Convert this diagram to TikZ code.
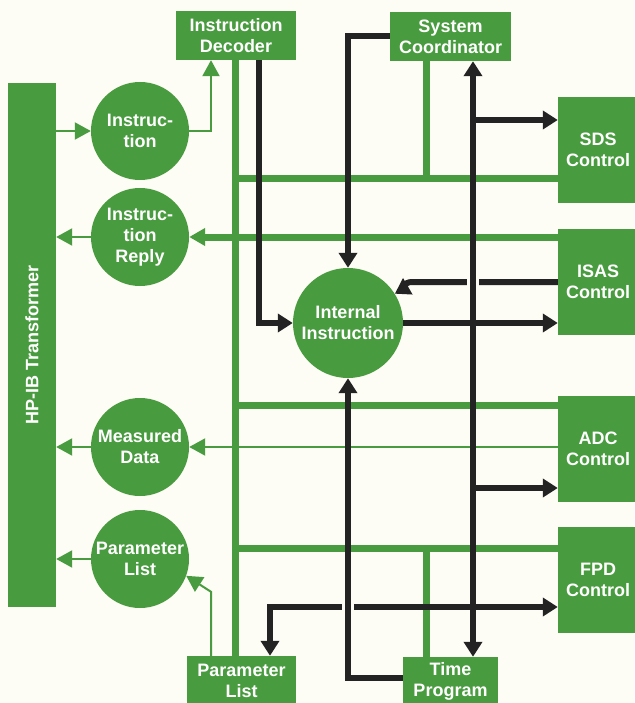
\documentclass[tikz,border=0pt]{standalone}
\usepackage{fontspec}
\setmainfont{Liberation Sans}
\usetikzlibrary{arrows.meta}
\definecolor{hpgreen}{RGB}{72,155,62}
\definecolor{ink}{RGB}{35,35,35}
\definecolor{paper}{RGB}{253,252,245}
\tikzset{
  fhead/.tip={Triangle[length=15pt,width=18pt]},
  ghead/.tip={Triangle[length=16pt,width=17pt]}
}

\begin{document}
\begin{tikzpicture}[x=1pt,y=-1pt,
    box/.style={fill=hpgreen, text=white, font=\bfseries\fontsize{18}{21}\selectfont, align=center, inner sep=0pt},
    circ/.style={box, circle, minimum size=98pt},
    bus/.style={draw=hpgreen, line width=7pt},
    wire/.style={draw=hpgreen, line width=2pt, -ghead},
    flow/.style={draw=ink, line width=6pt, -fhead}]
    \fill[paper] (0,0) rectangle (634,703);
    \useasboundingbox (0,0) rectangle (634,703);

    % blocks
    \node[box, minimum width=48pt, minimum height=524pt] (hpib) at (32,345) {\rotatebox{90}{HP-IB Transformer}};
    \node[box, minimum width=120pt, minimum height=49pt] (dec) at (236,35.5) {Instruction\\Decoder};
    \node[box, minimum width=121pt, minimum height=49pt] (sys) at (450.5,36.5) {System\\Coordinator};
    \node[box, minimum width=80pt, minimum height=106pt] (sds) at (598,150) {SDS\\Control};
    \node[box, minimum width=80pt, minimum height=106pt] (isas) at (598,282) {ISAS\\Control};
    \node[box, minimum width=80pt, minimum height=106pt] (adc) at (598,449) {ADC\\Control};
    \node[box, minimum width=80pt, minimum height=106pt] (fpd) at (598,580) {FPD\\Control};
    \node[box, minimum width=109pt, minimum height=49pt] (plist) at (241.5,680.5) {Parameter\\List};
    \node[box, minimum width=95pt, minimum height=49pt] (tprog) at (450.5,681.5) {Time\\Program};

    \node[circ] (instr) at (140,131) {Instruc-\\tion};
    \node[circ] (reply) at (140,237) {Instruc-\\tion\\Reply};
    \node[circ] (meas) at (140,447) {Measured\\Data};
    \node[circ] (param) at (140,559) {Parameter\\List};
    \node[circ, minimum size=110pt] (intl) at (348,323) {Internal\\Instruction};

    \coordinate (bx) at (235,0);
    \coordinate (sx) at (426,0);
    \coordinate (cx) at (473,0);
    \coordinate (r1) at (0,179);
    \coordinate (r2) at (0,405);
    \coordinate (r3) at (0,548);

    % green bus
    \draw[bus] (bx |- dec.south) -- (bx |- plist.north);
    \draw[bus] (bx |- r1) -- (sds.west |- r1);
    \draw[bus] (sx |- sys.south) -- (sx |- r1);
    \draw[bus] (bx |- r2) -- (adc.west |- r2);
    \draw[bus] (bx |- r3) -- (fpd.west |- r3);
    \draw[bus] (sx |- r3) -- (sx |- tprog.north);
    \draw[bus, -ghead] (reply.east -| isas.west) -- (reply.east);

    \draw[wire] (instr.west -| hpib.east) -- (instr.west);
    \draw[wire] (instr.east) -| ([xshift=-25pt]dec.south);
    \draw[wire] (reply.west) -- (reply.west -| hpib.east);
    \draw[wire] (meas.east -| adc.west) -- (meas.east);
    \draw[wire] (meas.west) -- (meas.west -| hpib.east);
    \draw[wire] (param.west) -- (param.west -| hpib.east);
    \draw[wire] ([xshift=-30.5pt]plist.north) -- ++(0,-64) -- (param.-20);

    % black flow
    \draw[flow] ([xshift=23pt]dec.south) |- (intl.west);
    \draw[flow] (sys.west) -| (intl.north);
    \draw[flow] (intl.east) -- (intl.east -| isas.west);
    \draw[flow] (isas.west) -- ++(-146,0) to[out=180,in=30] (intl.32);
    \draw[paper, line width=8pt] (cx |- isas.west) ++(-6,0) -- ++(12,0);
    \draw[flow, fhead-fhead] (cx |- sys.south) -- (cx |- tprog.north);
    \coordinate (sdsin) at ([yshift=30pt]sds.west);
    \draw[flow] (cx |- sdsin) -- (sdsin);
    \coordinate (adcin) at ([yshift=-39pt]adc.west);
    \draw[flow] (cx |- adcin) -- (adcin);
    \coordinate (fpdin) at ([yshift=-27pt]fpd.west);
    \draw[flow, fhead-fhead] ([xshift=28.5pt]plist.north) |- (fpdin);
    \draw[paper, line width=8pt] (intl.south |- fpdin) ++(-6,0) -- ++(12,0);
    \draw[flow] ([yshift=4pt]tprog.west) -| (intl.south);
\end{tikzpicture}
\end{document}
